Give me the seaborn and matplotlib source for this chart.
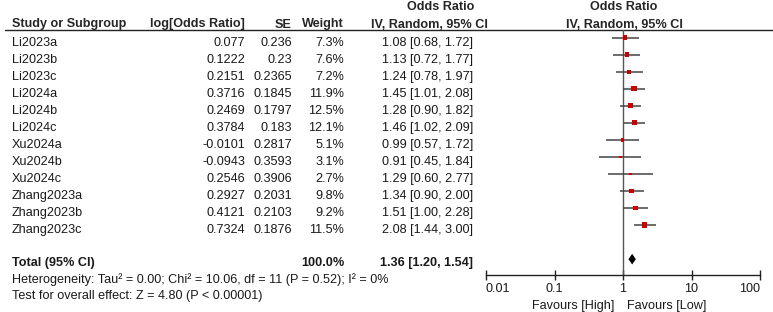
import matplotlib
matplotlib.use("Agg")
import matplotlib.pyplot as plt
import seaborn as sns
import numpy as np
import pandas as pd

# ---------------- data ----------------
studies = ["Li2023a", "Li2023b", "Li2023c", "Li2024a", "Li2024b", "Li2024c",
           "Xu2024a", "Xu2024b", "Xu2024c", "Zhang2023a", "Zhang2023b", "Zhang2023c"]
log_or = ["0.077", "0.1222", "0.2151", "0.3716", "0.2469", "0.3784",
          "-0.0101", "-0.0943", "0.2546", "0.2927", "0.4121", "0.7324"]
se = ["0.236", "0.23", "0.2365", "0.1845", "0.1797", "0.183",
      "0.2817", "0.3593", "0.3906", "0.2031", "0.2103", "0.1876"]
weight = [7.3, 7.6, 7.2, 11.9, 12.5, 12.1, 5.1, 3.1, 2.7, 9.8, 9.2, 11.5]
or_est = [1.08, 1.13, 1.24, 1.45, 1.28, 1.46, 0.99, 0.91, 1.29, 1.34, 1.51, 2.08]
or_lo = [0.68, 0.72, 0.78, 1.01, 0.90, 1.02, 0.57, 0.45, 0.60, 0.90, 1.00, 1.44]
or_hi = [1.72, 1.77, 1.97, 2.08, 1.82, 2.09, 1.72, 1.84, 2.77, 2.00, 2.28, 3.00]
total_or, total_lo, total_hi = 1.36, 1.20, 1.54
total_weight = "100.0%"
het_text = "Heterogeneity: Tau² = 0.00; Chi² = 10.06, df = 11 (P = 0.52); I² = 0%"
effect_text = "Test for overall effect: Z = 4.80 (P < 0.00001)"
tick_vals = [0.01, 0.1, 1, 10, 100]
tick_labels = ["0.01", "0.1", "1", "10", "100"]
favours_left = "Favours [High]"
favours_right = "Favours [Low]"

# ---------------- style ----------------
sns.set_theme(style="white")
plt.rcParams["font.family"] = ["Liberation Sans", "DejaVu Sans"]
FS = 9.1
TXT = "#1a1a1a"

W, H = 773, 312
fig = plt.figure(figsize=(W / 100, H / 100), dpi=100)

# text layer in pixel coordinates
axt = fig.add_axes([0, 0, 1, 1])
axt.set_xlim(0, W)
axt.set_ylim(H, 0)
axt.axis("off")

row0, dy = 37.5, 17.05
rows = [row0 + dy * i for i in range(len(studies))]
row_total = row0 + dy * 13
toff = 8.4  # baseline offset relative to row centre

# headers
hb = dict(fontsize=FS, fontweight="bold", color="#262626", va="baseline")
axt.text(12, 27.5, "Study or Subgroup", ha="left", **hb)
axt.text(245, 27.5, "log[Odds Ratio]", ha="right", **hb)
axt.text(292, 27.5, "SE", ha="right", **hb)
axt.text(344, 27.5, "Weight", ha="right", **hb)
axt.text(441, 10.5, "Odds Ratio", ha="center", **hb)
axt.text(429, 27.5, "IV, Random, 95% CI", ha="center", **hb)
axt.text(624, 10.5, "Odds Ratio", ha="center", **hb)
axt.text(624, 27.5, "IV, Random, 95% CI", ha="center", **hb)
axt.plot([5, W], [29.5, 29.5], color="#222222", lw=1.0)

tr = dict(fontsize=FS, color=TXT, va="baseline")
for i, name in enumerate(studies):
    y = rows[i] + toff
    axt.text(12, y, name, ha="left", **tr)
    axt.text(245, y, log_or[i], ha="right", **tr)
    axt.text(292, y, se[i], ha="right", **tr)
    axt.text(344, y, f"{weight[i]:.1f}%", ha="right", **tr)
    axt.text(473, y, f"{or_est[i]:.2f} [{or_lo[i]:.2f}, {or_hi[i]:.2f}]", ha="right", **tr)

tb = dict(fontsize=FS, color=TXT, va="baseline", fontweight="bold")
yt = 266
axt.text(12, yt, "Total (95% CI)", ha="left", **tb)
axt.text(344, yt, total_weight, ha="right", **tb)
axt.text(473, yt, f"{total_or:.2f} [{total_lo:.2f}, {total_hi:.2f}]", ha="right", **tb)
axt.text(12, 283.5, het_text, ha="left", **tr)
axt.text(12, 299.5, effect_text, ha="left", **tr)
axt.text(614, 308.5, favours_left, ha="right", **tr)
axt.text(627, 308.5, favours_right, ha="left", **tr)

# forest axes: x from 486 px (0.01) to 760 px (100), y in pixels from top
x0, x1 = 486, 760
ytop, ybot = 29.5, 275
ax = fig.add_axes([x0 / W, 1 - ybot / H, (x1 - x0) / W, (ybot - ytop) / H])
ax.set_xscale("log")
ax.set_xlim(0.01, 100)
ax.set_ylim(ybot, ytop)
ax.patch.set_alpha(0)

ax.axvline(1, color="#555555", lw=1.0, zorder=1)

df = pd.DataFrame({"study": studies, "or": or_est, "lo": or_lo, "hi": or_hi,
                   "weight": weight, "row": rows})
ax.hlines(df["row"], df["lo"], df["hi"], color="#444444", lw=1.1, zorder=2)
sns.scatterplot(data=df, x="or", y="row", size="weight", sizes=(3.2, 15),
                size_norm=(2.7, 12.5), marker="s", color="#cc0000",
                edgecolor="none", linewidth=0, legend=False, ax=ax, zorder=3)

dh = 5.3
ax.fill([total_lo, total_or, total_hi, total_or],
        [row_total, row_total - dh, row_total, row_total + dh],
        color="black", lw=0, zorder=4)

for s in ["top", "right", "left"]:
    ax.spines[s].set_visible(False)
ax.spines["bottom"].set_color("#222222")
ax.spines["bottom"].set_linewidth(1.0)
ax.set_xlim(0.01, 100)
ax.set_ylim(ybot, ytop)
ax.set_yticks([])
ax.set_xticks(tick_vals)
ax.set_xticklabels(tick_labels)
ax.minorticks_off()
ax.tick_params(axis="x", direction="inout", length=7, width=1.0, color="#222222",
               labelsize=FS, labelcolor=TXT, pad=2, bottom=True)
labs = ax.get_xticklabels()
labs[0].set_horizontalalignment("left")
labs[-1].set_horizontalalignment("right")
ax.set_xlabel("")
ax.set_ylabel("")

fig.savefig("out.png", dpi=100)
